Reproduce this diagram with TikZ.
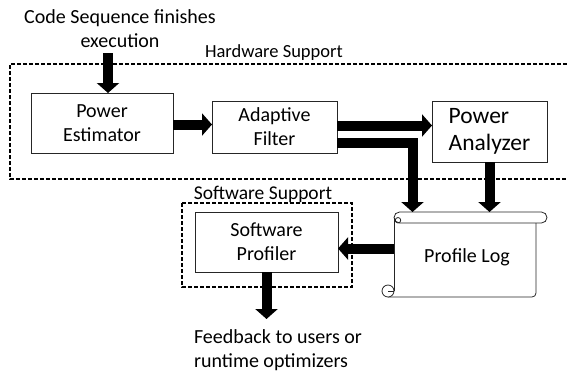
\documentclass[tikz,border=0pt]{standalone}
\usepackage{fontspec}
\setmainfont{Carlito}
\usetikzlibrary{arrows.meta}
\begin{document}
\begin{tikzpicture}[x=1pt,y=-1pt,
  box/.style={draw=black!85, line width=0.8pt, inner sep=0pt, outer sep=0pt, align=center, font=\fontsize{20}{24}\selectfont},
  dashbox/.style={draw=black, line width=1.2pt, dash pattern=on 4pt off 2pt},
  bigarrow/.style={line width=10pt, draw=black, line join=miter, -{Triangle[width=22pt,length=10pt]}},
  txt/.style={inner sep=0pt, outer sep=0pt, font=\fontsize{20}{24}\selectfont},
  scrollline/.style={draw=black!85, line width=0.8pt}
]
\useasboundingbox (0,0) rectangle (567,373);

% dashed groups
\draw[dashbox] (567,64) -- (10,64) -- (10,179) -- (567,179);
\node[txt, font=\fontsize{18.5}{22}\selectfont, anchor=west] (hw) at (205,53) {Hardware Support};
\draw[dashbox] (182,203) rectangle (352,287);
\node[txt, font=\fontsize{19.5}{23}\selectfont] (sw) at (263,194) {Software Support};

% boxes
\node[box, minimum width=142pt, minimum height=60pt] (pe) at (102,123) {Power\\Estimator};
\node[box, minimum width=125pt, minimum height=52pt] (af) at (274.5,127) {Adaptive\\Filter};
\node[box, minimum width=115pt, minimum height=61pt, align=left, font=\fontsize{23.5}{27}\selectfont] (pa) at (489.5,131.5) {Power\\Analyzer};
\node[box, minimum width=143pt, minimum height=60pt] (sp) at (266.5,242) {Software\\Profiler};

% profile log scroll
\node[inner sep=0pt, outer sep=0pt, minimum width=142pt, minimum height=85pt] (pl) at (465,254.5) {};
\draw[scrollline, rounded corners=5.5pt] (394,212) rectangle (547,223);
\draw[scrollline] (398,220.25) circle[radius=2.75];
\draw[scrollline] (394,217.5) -- (394,291);
\draw[scrollline, rounded corners=4pt] (536,223) -- (536,297) -- (388,297);
\draw[scrollline, fill=white] (388,291) circle[radius=6];
\draw[scrollline] (388,291) -- (394,291);
\node[txt] (plt) at (467,257) {Profile Log};

% texts
\node[txt, align=center] (code) at (120,29) {Code Sequence finishes\\execution};
\node[txt, align=left] (fb) at (278,350) {Feedback to users or\\runtime optimizers};

% connectors
\coordinate (in) at (108,53);
\draw[bigarrow] (in) -- (in |- pe.north);
\coordinate (r0) at (0,124.5);
\draw[bigarrow] (pe.east |- r0) -- (af.west |- r0);
\coordinate (r1) at (0,125.5);
\draw[bigarrow] (af.east |- r1) -- (pa.west |- r1);
\coordinate (elbow) at (412.5,142.5);
\draw[bigarrow] (af.east |- elbow) -- (elbow) -- (elbow |- pl.north);
\draw[bigarrow] (pa.south) -- (pa.south |- pl.north);
\coordinate (r2) at (0,248.5);
\draw[bigarrow] (pl.west |- r2) -- (sp.east |- r2);
\coordinate (fbtop) at (0,319);
\draw[bigarrow] (sp.south) -- (sp.south |- fbtop);
\end{tikzpicture}
\end{document}
